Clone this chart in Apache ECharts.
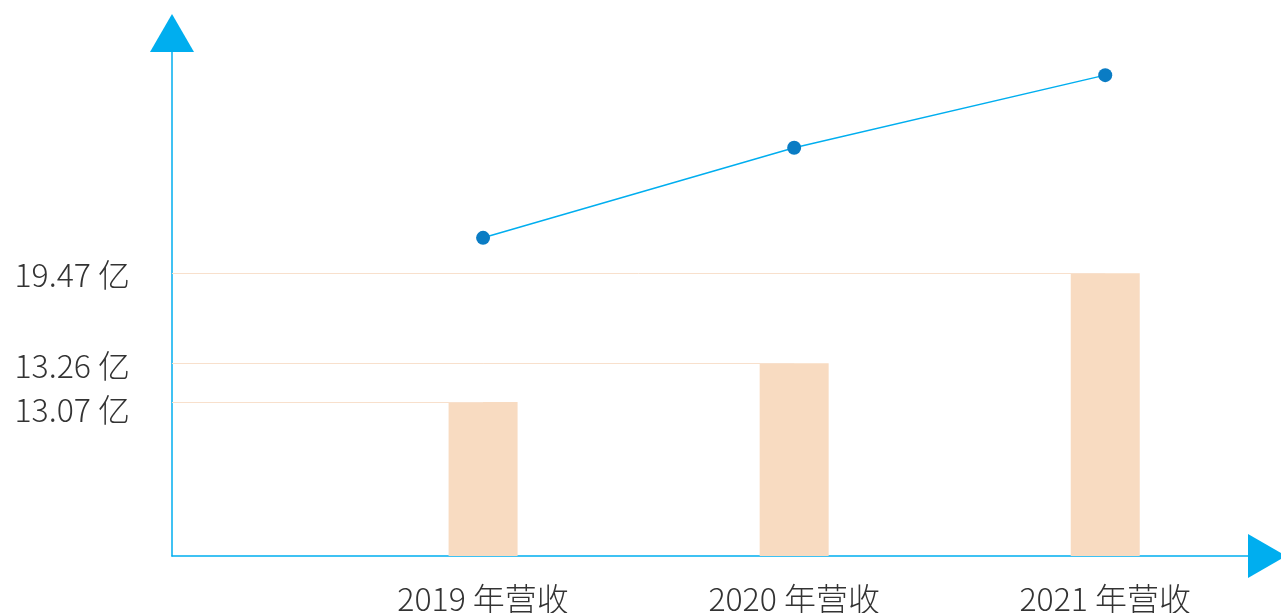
<!DOCTYPE html>
<html>
<head>
<meta charset="utf-8">
<title>营收</title>
<script src="https://cdn.jsdelivr.net/npm/echarts@6/dist/echarts.min.js"></script>
<style>
html,body{margin:0;padding:0;background:#fff;}
#main{width:1281px;height:613px;}
</style>
</head>
<body>
<div id="main"></div>
<script>
// 类目与数值
var categories = ['2019 年营收', '2020 年营收', '2021 年营收'];
var valueLabels = ['13.07 亿', '13.26 亿', '19.47 亿'];
var barValues = [10.6, 13.26, 19.47];   // 柱高（按图上比例读取）
var lineValues = [21.9, 28.1, 33.1];    // 折线点

var chart = echarts.init(document.getElementById('main'));

var barData = barValues.map(function (v, i) { return [i + 1, v]; });
var lineData = lineValues.map(function (v, i) { return [i + 1, v]; });
var markData = barValues.map(function (v, i) {
    return [{coord: [0, v]}, {coord: [i + 1, v]}];
});

var labelFont = {
    color: '#333',
    fontSize: 32,
    fontWeight: 300,
    fontFamily: 'Noto Sans CJK SC'
};

var option = {
    backgroundColor: '#fff',
    animation: false,
    grid: {
        left: 172,
        right: 14,
        top: 33,
        bottom: 57,
        outerBoundsMode: 'none'
    },
    xAxis: {
        type: 'value',
        min: 0,
        max: 3.52,
        interval: 1,
        splitLine: {show: false},
        axisTick: {show: false},
        axisLine: {
            show: true,
            symbol: ['none', 'triangle'],
            symbolSize: [44, 38],
            lineStyle: {color: '#00AEEF', width: 1.5}
        },
        axisLabel: Object.assign({
            margin: 27,
            showMinLabel: false,
            showMaxLabel: false,
            formatter: function (v) {
                return categories[v - 1] || '';
            }
        }, labelFont)
    },
    yAxis: {
        type: 'value',
        min: 0,
        max: 36,
        splitLine: {show: false},
        axisTick: {show: false},
        axisLabel: {show: false},
        axisLine: {
            show: true,
            symbol: ['none', 'triangle'],
            symbolSize: [44, 38],
            lineStyle: {color: '#00AEEF', width: 1.5}
        }
    },
    series: [
        {
            type: 'bar',
            barWidth: 69,
            data: barData,
            itemStyle: {color: '#F8DBC1'},
            markLine: {
                silent: true,
                symbol: 'none',
                lineStyle: {color: '#F8E0CC', width: 1, type: 'solid'},
                label: Object.assign({
                    position: 'start',
                    distance: 42,
                    formatter: function (p) {
                        // 13.07 标签略往下
                        var key = p.dataIndex === 0 ? 'low' : 'n';
                        return '{' + key + '|' + valueLabels[p.dataIndex] + '}';
                    },
                    rich: {
                        n: Object.assign({padding: [4, 0, 0, 0]}, labelFont),
                        low: Object.assign({padding: [16, 0, 0, 0]}, labelFont)
                    }
                }, labelFont),
                data: markData
            }
        },
        {
            type: 'line',
            data: lineData,
            symbol: 'circle',
            symbolSize: 14,
            lineStyle: {color: '#00AEEF', width: 1.5},
            itemStyle: {color: '#0A7CC4'}
        }
    ]
};
chart.setOption(option);
</script>
</body>
</html>
